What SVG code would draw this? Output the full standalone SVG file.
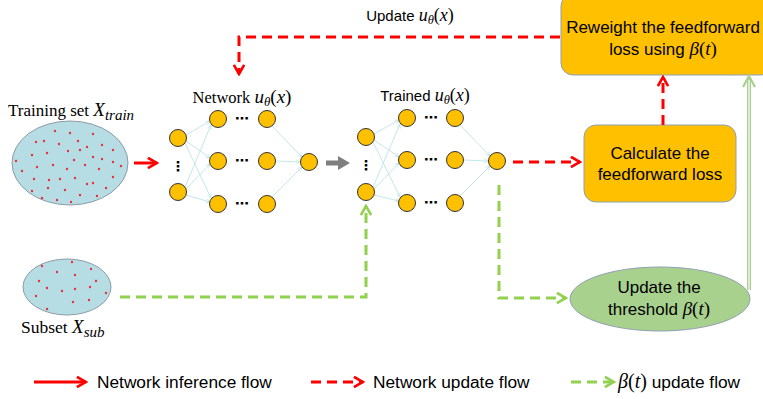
<svg xmlns="http://www.w3.org/2000/svg" width="763" height="399" viewBox="0 0 763 399">
<style>
.sans{font-family:"Liberation Sans",Arial,sans-serif;fill:#000}
.serif{font-family:"Liberation Serif","DejaVu Serif",serif;fill:#000}
.mi{font-family:"Liberation Serif","DejaVu Serif",serif;font-style:italic}
.mr{font-family:"Liberation Serif","DejaVu Serif",serif;font-style:normal}
.node{fill:#FFC000;stroke:#333;stroke-width:1}
.dot{fill:#E8313F}
.set{fill:#B6DDE3;stroke:#8A9BA8;stroke-width:1}
.conn{stroke:#BDE3E8;stroke-width:0.9;fill:none}
.red{stroke:#FF0000;stroke-width:3;fill:none}
.reddash{stroke:#FF0000;stroke-width:3;fill:none;stroke-dasharray:10 6}
.greendash{stroke:#92D050;stroke-width:3;fill:none;stroke-dasharray:10 6}
.box{fill:#FFC000;stroke:#8FA0B4;stroke-width:1}
.ell{fill:#A9D18E;stroke:#8FA0B4;stroke-width:1}
.dots{font-family:"DejaVu Sans",sans-serif;font-weight:bold;font-size:14px;fill:#000}
</style>
<defs>
<marker id="mRed" viewBox="0 0 12 12" markerWidth="12" markerHeight="12" refX="10" refY="6" orient="auto" markerUnits="userSpaceOnUse">
<path d="M2,1.5 L10,6 L2,10.5" fill="none" stroke="#FF0000" stroke-width="2.6" stroke-linecap="square"/>
</marker>
<marker id="mGreen" viewBox="0 0 12 12" markerWidth="12" markerHeight="12" refX="10" refY="6" orient="auto" markerUnits="userSpaceOnUse">
<path d="M2,1.5 L10,6 L2,10.5" fill="none" stroke="#92D050" stroke-width="2.6" stroke-linecap="square"/>
</marker>
<marker id="mCyan" viewBox="0 0 6 6" markerWidth="5" markerHeight="5" refX="5.5" refY="3" orient="auto" markerUnits="userSpaceOnUse">
<path d="M0.5,0.5 L5.5,3 L0.5,5.5" fill="none" stroke="#BDE3E8" stroke-width="0.9"/>
</marker>
</defs>

<!-- Training set -->
<g id="training-set">
<text class="serif" x="8" y="116" font-size="17">Training set <tspan class="mi" font-size="19">X</tspan><tspan class="mi" font-size="15" dy="4">train</tspan></text>
<ellipse class="set" cx="70" cy="163" rx="58" ry="42"/>
<g class="dot">
<circle cx="55" cy="131" r="1.2"/><circle cx="70" cy="133" r="1.2"/><circle cx="93" cy="134" r="1.2"/><circle cx="36" cy="142" r="1.2"/><circle cx="44" cy="141" r="1.2"/><circle cx="78" cy="141" r="1.2"/><circle cx="59" cy="144" r="1.2"/><circle cx="102" cy="145" r="1.2"/><circle cx="87" cy="147" r="1.2"/><circle cx="68" cy="151" r="1.2"/><circle cx="80" cy="150" r="1.2"/><circle cx="113" cy="150" r="1.2"/><circle cx="32" cy="155" r="1.2"/><circle cx="47" cy="153" r="1.2"/><circle cx="74" cy="160" r="1.2"/><circle cx="93" cy="157" r="1.2"/><circle cx="102" cy="159" r="1.2"/><circle cx="16" cy="161" r="1.2"/><circle cx="53" cy="165" r="1.2"/><circle cx="37" cy="167" r="1.2"/><circle cx="67" cy="169" r="1.2"/><circle cx="85" cy="165" r="1.2"/><circle cx="113" cy="162" r="1.2"/><circle cx="121" cy="166" r="1.2"/><circle cx="22" cy="171" r="1.2"/><circle cx="99" cy="169" r="1.2"/><circle cx="34" cy="179" r="1.2"/><circle cx="49" cy="180" r="1.2"/><circle cx="60" cy="179" r="1.2"/><circle cx="75" cy="178" r="1.2"/><circle cx="87" cy="184" r="1.2"/><circle cx="113" cy="177" r="1.2"/><circle cx="93" cy="183" r="1.2"/><circle cx="106" cy="188" r="1.2"/><circle cx="32" cy="191" r="1.2"/><circle cx="48" cy="188" r="1.2"/><circle cx="65" cy="190" r="1.2"/><circle cx="80" cy="195" r="1.2"/><circle cx="97" cy="196" r="1.2"/><circle cx="57" cy="200" r="1.2"/><circle cx="42" cy="198" r="1.2"/><circle cx="71" cy="202" r="1.2"/>
</g>
</g>

<!-- Subset -->
<g id="subset">
<ellipse class="set" cx="67" cy="287" rx="44" ry="28"/>
<g class="dot">
<circle cx="42" cy="266" r="1.2"/><circle cx="72" cy="262" r="1.2"/><circle cx="91" cy="269" r="1.2"/><circle cx="57" cy="272" r="1.2"/><circle cx="75" cy="275" r="1.2"/><circle cx="39" cy="281" r="1.2"/><circle cx="96" cy="281" r="1.2"/><circle cx="47" cy="288" r="1.2"/><circle cx="62" cy="291" r="1.2"/><circle cx="75" cy="289" r="1.2"/><circle cx="90" cy="287" r="1.2"/><circle cx="36" cy="296" r="1.2"/><circle cx="106" cy="293" r="1.2"/><circle cx="73" cy="302" r="1.2"/><circle cx="89" cy="300" r="1.2"/><circle cx="47" cy="309" r="1.2"/>
</g>
<text class="serif" x="21" y="333" font-size="17.5">Subset <tspan class="mi" font-size="19">X</tspan><tspan class="mi" font-size="15" dy="4">sub</tspan></text>
</g>

<!-- Network 1 -->
<g id="network">
<text class="serif" x="242" y="103" font-size="16.5" text-anchor="middle">Network <tspan class="mi" font-size="19">u</tspan><tspan class="mi" font-size="13" dy="3">θ</tspan><tspan class="mr" font-size="19" dy="-3">(</tspan><tspan class="mi" font-size="19">x</tspan><tspan class="mr" font-size="19">)</tspan></text>
<g class="conn" marker-end="url(#mCyan)">
<line x1="186" y1="135" x2="210" y2="121"/><line x1="186" y1="141" x2="210" y2="158"/><line x1="185" y1="143" x2="211" y2="198"/>
<line x1="185" y1="187" x2="211" y2="125"/><line x1="186" y1="189" x2="210" y2="164"/><line x1="186" y1="195" x2="210" y2="202"/>
<line x1="272" y1="126" x2="302" y2="157"/><line x1="276" y1="161" x2="300" y2="162"/><line x1="272" y1="197" x2="302" y2="167"/>
</g>
<g id="n1-i1"><circle class="node" cx="178" cy="138" r="8.5"/></g>
<g id="n1-i2"><circle class="node" cx="178" cy="192" r="8.5"/></g>
<text class="dots" x="178" y="171" text-anchor="middle">⋮</text>
<g id="n1-h1a"><circle class="node" cx="218" cy="119" r="8.5"/></g>
<g id="n1-h1b"><circle class="node" cx="218" cy="161" r="8.5"/></g>
<g id="n1-h1c"><circle class="node" cx="218" cy="204" r="8.5"/></g>
<text class="dots" x="242" y="123" text-anchor="middle">⋯</text>
<text class="dots" x="242" y="165" text-anchor="middle">⋯</text>
<text class="dots" x="242" y="208" text-anchor="middle">⋯</text>
<g id="n1-h2a"><circle class="node" cx="267" cy="119" r="8.5"/></g>
<g id="n1-h2b"><circle class="node" cx="267" cy="161" r="8.5"/></g>
<g id="n1-h2c"><circle class="node" cx="267" cy="204" r="8.5"/></g>
<g id="n1-out"><circle class="node" cx="309" cy="162" r="8.5"/></g>
</g>

<!-- Network 2 -->
<g id="trained-network">
<text class="sans" x="425" y="101" font-size="15" text-anchor="middle">Trained <tspan class="mi" font-size="18">u</tspan><tspan class="mi" font-size="12.5" dy="3">θ</tspan><tspan class="mr" font-size="18" dy="-3">(</tspan><tspan class="mi" font-size="18">x</tspan><tspan class="mr" font-size="18">)</tspan></text>
<g class="conn" marker-end="url(#mCyan)">
<line x1="374" y1="134" x2="399" y2="120"/><line x1="374" y1="140" x2="399" y2="157"/><line x1="373" y1="142" x2="400" y2="197"/>
<line x1="373" y1="187" x2="400" y2="124"/><line x1="374" y1="189" x2="399" y2="163"/><line x1="374" y1="195" x2="399" y2="201"/>
<line x1="460" y1="125" x2="490" y2="156"/><line x1="464" y1="160" x2="488" y2="161"/><line x1="460" y1="196" x2="490" y2="166"/>
</g>
<g id="n2-i1"><circle class="node" cx="366" cy="137" r="8.5"/></g>
<g id="n2-i2"><circle class="node" cx="366" cy="192" r="8.5"/></g>
<text class="dots" x="366" y="170" text-anchor="middle">⋮</text>
<g id="n2-h1a"><circle class="node" cx="407" cy="118" r="8.5"/></g>
<g id="n2-h1b"><circle class="node" cx="407" cy="160" r="8.5"/></g>
<g id="n2-h1c"><circle class="node" cx="407" cy="203" r="8.5"/></g>
<text class="dots" x="431" y="122" text-anchor="middle">⋯</text>
<text class="dots" x="431" y="164" text-anchor="middle">⋯</text>
<text class="dots" x="431" y="207" text-anchor="middle">⋯</text>
<g id="n2-h2a"><circle class="node" cx="455" cy="118" r="8.5"/></g>
<g id="n2-h2b"><circle class="node" cx="455" cy="160" r="8.5"/></g>
<g id="n2-h2c"><circle class="node" cx="455" cy="203" r="8.5"/></g>
<g id="n2-out"><circle class="node" cx="497" cy="161" r="8.5"/></g>
</g>

<!-- Boxes -->
<g id="reweight">
<rect class="box" x="561" y="-6" width="212" height="81" rx="12"/>
<text class="sans" x="663" y="33" font-size="17" text-anchor="middle">Reweight the feedforward</text>
<text class="sans" x="663" y="55" font-size="17" text-anchor="middle">loss using <tspan class="mi" font-size="19">β</tspan><tspan class="mr" font-size="19">(</tspan><tspan class="mi" font-size="19">t</tspan><tspan class="mr" font-size="19">)</tspan></text>
</g>
<g id="calculate">
<rect class="box" x="584" y="125" width="152" height="77" rx="12"/>
<text class="sans" x="660" y="159" font-size="17" text-anchor="middle">Calculate the</text>
<text class="sans" x="660" y="180" font-size="17" text-anchor="middle">feedforward loss</text>
</g>
<g id="update-threshold">
<ellipse class="ell" cx="660" cy="299" rx="90" ry="32"/>
<text class="sans" x="659" y="293" font-size="17" text-anchor="middle">Update the</text>
<text class="sans" x="659" y="315" font-size="17" text-anchor="middle">threshold <tspan class="mi" font-size="19">β</tspan><tspan class="mr" font-size="19">(</tspan><tspan class="mi" font-size="19">t</tspan><tspan class="mr" font-size="19">)</tspan></text>
</g>

<!-- Connectors -->
<g id="connectors">
<line class="red" x1="134" y1="163" x2="157" y2="163" marker-end="url(#mRed)"/>
<g id="gray-arrow"><line x1="326" y1="163" x2="339" y2="163" stroke="#7F7F7F" stroke-width="5"/><polygon points="338,156 350,163 338,170" fill="#7F7F7F"/></g>
<line class="reddash" x1="513" y1="162" x2="580" y2="162" marker-end="url(#mRed)"/>
<line class="reddash" x1="663" y1="125" x2="663" y2="77" marker-end="url(#mRed)"/>
<polyline class="reddash" points="560,37 239,37 239,74" marker-end="url(#mRed)"/>
<text class="sans" x="410" y="21" font-size="15" text-anchor="middle">Update <tspan class="mi" font-size="18">u</tspan><tspan class="mi" font-size="12.5" dy="3">θ</tspan><tspan class="mr" font-size="18" dy="-3">(</tspan><tspan class="mi" font-size="18">x</tspan><tspan class="mr" font-size="18">)</tspan></text>
<polyline class="greendash" points="120,297 366,297 366,206" marker-end="url(#mGreen)"/>
<polyline class="greendash" points="499,185 499,298 566,298" marker-end="url(#mGreen)"/>
<g id="green-solid">
<line x1="749" y1="290" x2="749" y2="78" stroke="#A9D18E" stroke-width="4"/>
<line x1="749" y1="290" x2="749" y2="80" stroke="#FFFFFF" stroke-width="1.2"/>
<path d="M743,87 L749,76 L755,87" fill="none" stroke="#A9D18E" stroke-width="2.2"/>
</g>
</g>

<!-- Legend -->
<g id="legend">
<line class="red" x1="34" y1="382" x2="86" y2="382" marker-end="url(#mRed)"/>
<text class="sans" x="97" y="388" font-size="17.3">Network inference flow</text>
<line class="reddash" x1="311" y1="382" x2="363" y2="382" marker-end="url(#mRed)"/>
<text class="sans" x="373" y="388" font-size="17.3">Network update flow</text>
<line class="greendash" x1="571" y1="382" x2="614" y2="382" marker-end="url(#mGreen)"/>
<text class="sans" x="618" y="388" font-size="17.3"><tspan class="mi" font-size="20">β</tspan><tspan class="mr" font-size="20">(</tspan><tspan class="mi" font-size="20">t</tspan><tspan class="mr" font-size="20">)</tspan> update flow</text>
</g>
</svg>
